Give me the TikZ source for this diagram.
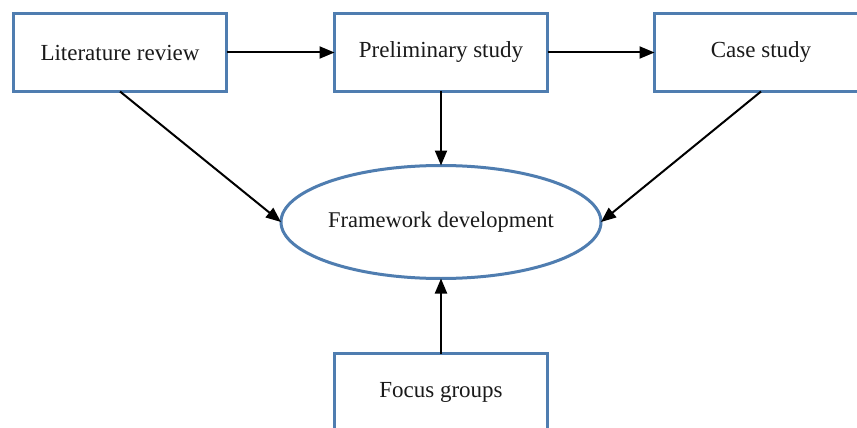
\documentclass[tikz,border=0pt]{standalone}
\usepackage{fontspec}
\setmainfont{Liberation Serif}
\usetikzlibrary{arrows.meta,shapes.geometric}
\definecolor{frameblue}{HTML}{4F7DB0}
\definecolor{inktext}{HTML}{1A1A1A}
\begin{document}
\begin{tikzpicture}[x=1pt,y=-1pt,
  stepbox/.style={draw=frameblue,line width=3pt,fill=white,minimum width=213pt,minimum height=78pt,
    inner sep=0pt,outer sep=0pt,text=inktext,font=\fontsize{23}{27}\selectfont},
  hub/.style={ellipse,draw=frameblue,line width=3pt,fill=white,minimum width=320pt,minimum height=113pt,
    inner sep=0pt,outer sep=0pt,text=inktext,font=\fontsize{22.5}{27}\selectfont},
  flow/.style={line width=2pt,-{Triangle[length=15pt,width=12pt]}}]
\useasboundingbox (0,0) rectangle (857,428);
\clip (0,0) rectangle (857,428);
\fill[white] (0,0) rectangle (857,428);

% boxes of the research stages
\node[stepbox] (lit) at (120,52.5) {Literature review};
\node[stepbox] (pre) at (441,52.5) {Preliminary study};
\node[stepbox] (case) at (761,52.5) {Case study};
\node[stepbox] (focus) at (441,392.5) {Focus groups};
\node[hub] (fw) at (441,222) {Framework development};

% connectors
\draw[flow] (lit.east) -- (pre.west);
\draw[flow] (pre.east) -- (case.west);
\draw[flow] (lit.south) -- (fw.west);
\draw[flow] (pre.south) -- (fw.north);
\draw[flow] (case.south) -- (fw.east);
\draw[flow] (focus.north) -- (fw.south);
\end{tikzpicture}
\end{document}
